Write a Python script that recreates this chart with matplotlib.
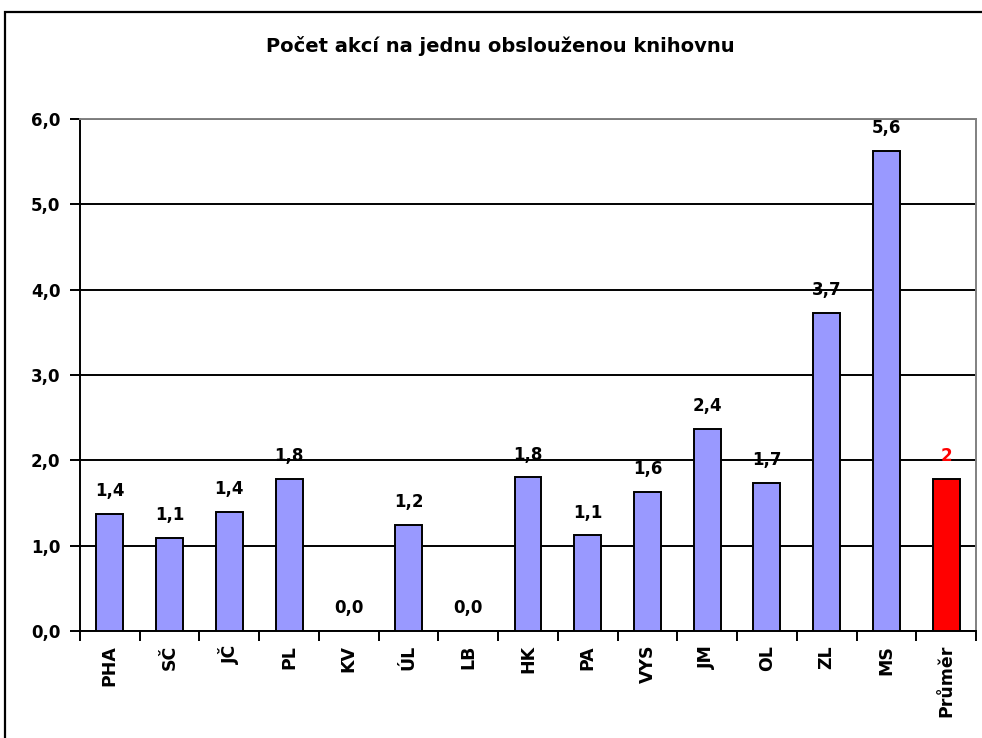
import numpy as np
import matplotlib.pyplot as plt
from matplotlib.patches import Rectangle

plt.rcParams['font.family'] = ['DejaVu Sans']

# Data
categories = ["PHA", "SČ", "JČ", "PL", "KV", "ÚL", "LB", "HK", "PA",
              "VYS", "JM", "OL", "ZL", "MS", "Průměr"]
values = [1.37, 1.09, 1.39, 1.78, 0.0, 1.24, 0.0, 1.80, 1.12,
          1.63, 2.37, 1.74, 3.73, 5.63, 1.78]
value_labels = ["1,4", "1,1", "1,4", "1,8", "0,0", "1,2", "0,0", "1,8", "1,1",
                "1,6", "2,4", "1,7", "3,7", "5,6", "2"]
y_ticks = [0, 1, 2, 3, 4, 5, 6]
y_tick_labels = ["0,0", "1,0", "2,0", "3,0", "4,0", "5,0", "6,0"]

bar_colors = ["#9999FF"] * (len(categories) - 1) + ["#FF0000"]
label_colors = ["black"] * (len(categories) - 1) + ["#FF0000"]

fig = plt.figure(figsize=(9.82, 7.38), dpi=100)

# outer chart frame (cut off at right and bottom, as in the source)
fig.patches.append(Rectangle((5 / 982, -0.05), 1.2, 1 - 12 / 738 + 0.05,
                             transform=fig.transFigure, fill=False,
                             edgecolor="black", linewidth=1.6))

fig.text(0.509, 1 - 46 / 738, "Počet akcí na jednu obslouženou knihovnu",
         ha="center", va="center", fontsize=14, fontweight="bold")

ax = fig.add_axes([80 / 982, 1 - 631 / 738, 896 / 982, 512 / 738])
x = np.arange(len(categories))

ax.set_axisbelow(True)
ax.yaxis.grid(True, color="black", linewidth=1.4)

ax.bar(x, values, width=0.45, color=bar_colors, edgecolor="black",
       linewidth=1.4, zorder=3)

for xi, v, lab, c in zip(x, values, value_labels, label_colors):
    ax.annotate(lab, (xi, v), xytext=(0, 10), textcoords="offset points",
                ha="center", va="bottom", fontsize=12, fontweight="bold",
                color=c)

ax.set_xlim(-0.5, len(categories) - 0.5)
ax.set_ylim(0, 6)
ax.set_yticks(y_ticks)
ax.set_yticklabels(y_tick_labels, fontsize=12, fontweight="bold")
ax.tick_params(axis="y", length=7, width=1.4, pad=7)

ax.set_xticks(x)
ax.set_xticklabels(categories, rotation=90, fontsize=12.5, fontweight="bold")
ax.tick_params(axis="x", which="major", length=0, pad=10)
ax.set_xticks(np.arange(-0.5, len(categories)), minor=True)
ax.tick_params(axis="x", which="minor", length=7, width=1.4)

for s in ["left", "bottom"]:
    ax.spines[s].set_color("black")
    ax.spines[s].set_linewidth(1.4)
for s in ["top", "right"]:
    ax.spines[s].set_color("#808080")
    ax.spines[s].set_linewidth(1.4)

fig.savefig("out.png", dpi=100)
